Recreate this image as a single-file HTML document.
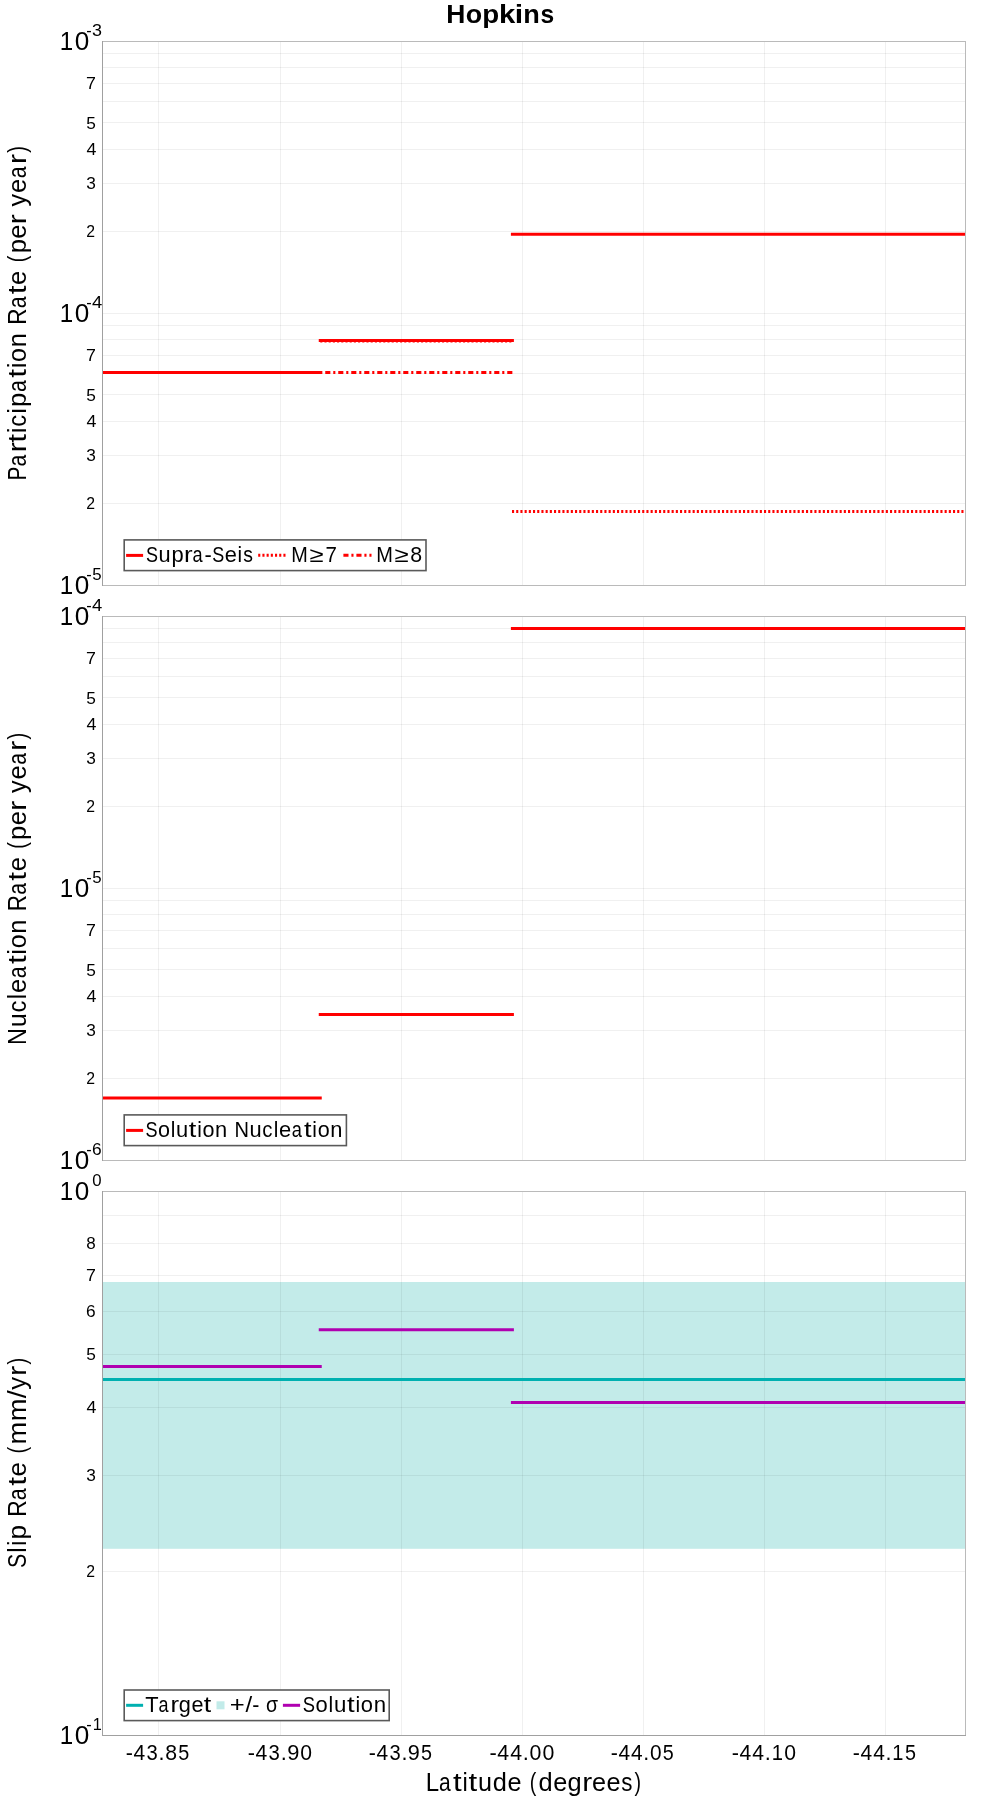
<!DOCTYPE html>
<html><head><meta charset="utf-8"><title>Hopkins</title><style>
html,body{margin:0;padding:0;background:#fff;}
svg{display:block;will-change:transform;}
text{font-family:"Liberation Sans", sans-serif;font-kerning:none;fill:#000;}
</style></head><body>
<svg width="1000" height="1800" viewBox="0 0 1000 1800">
<rect width="1000" height="1800" fill="#fff"/>
<text y="22.80" font-size="25.4" font-weight="bold"><tspan x="446.23" textLength="19.10" lengthAdjust="spacingAndGlyphs">H</tspan><tspan x="465.71" textLength="16.41" lengthAdjust="spacingAndGlyphs">o</tspan><tspan x="482.26" textLength="16.93" lengthAdjust="spacingAndGlyphs">p</tspan><tspan x="499.08" textLength="16.30" lengthAdjust="spacingAndGlyphs">k</tspan><tspan x="514.84" textLength="8.43" lengthAdjust="spacingAndGlyphs">i</tspan><tspan x="523.33" textLength="16.55" lengthAdjust="spacingAndGlyphs">n</tspan><tspan x="540.43" textLength="13.68" lengthAdjust="spacingAndGlyphs">s</tspan></text>
<rect x="102" y="1282" width="863" height="266.8" fill="#00a8a0" fill-opacity="0.235"/>
<path d="M103 503.5H965M103 455.5H965M103 421.5H965M103 394.5H965M103 373.5H965M103 355.5H965M103 339.5H965M103 325.5H965M103 313.5H965M103 231.5H965M103 183.5H965M103 149.5H965M103 122.5H965M103 101.5H965M103 83.5H965M103 67.5H965M103 53.5H965" stroke="#000" stroke-opacity="0.06" fill="none"/>
<path d="M158.5 42V585M280.5 42V585M401.5 42V585M522.5 42V585M643.5 42V585M764.5 42V585M885.5 42V585" stroke="#000" stroke-opacity="0.06" fill="none"/>
<path d="M103 1078.5H965M103 1030.5H965M103 996.5H965M103 969.5H965M103 948.5H965M103 930.5H965M103 914.5H965M103 900.5H965M103 888.5H965M103 806.5H965M103 758.5H965M103 724.5H965M103 697.5H965M103 676.5H965M103 658.5H965M103 642.5H965M103 628.5H965" stroke="#000" stroke-opacity="0.06" fill="none"/>
<path d="M158.5 617V1160M280.5 617V1160M401.5 617V1160M522.5 617V1160M643.5 617V1160M764.5 617V1160M885.5 617V1160" stroke="#000" stroke-opacity="0.06" fill="none"/>
<path d="M103 1571.5H965M103 1475.5H965M103 1407.5H965M103 1354.5H965M103 1311.5H965M103 1275.5H965M103 1243.5H965M103 1215.5H965" stroke="#000" stroke-opacity="0.06" fill="none"/>
<path d="M158.5 1192V1735M280.5 1192V1735M401.5 1192V1735M522.5 1192V1735M643.5 1192V1735M764.5 1192V1735M885.5 1192V1735" stroke="#000" stroke-opacity="0.06" fill="none"/>
<defs><clipPath id="c0"><rect x="102" y="41" width="863" height="544"/></clipPath><clipPath id="c1"><rect x="102" y="616" width="863" height="544"/></clipPath><clipPath id="c2"><rect x="102" y="1191" width="863" height="544"/></clipPath></defs>
<g clip-path="url(#c0)">
<path d="M100 372.4H320.25" stroke="#ff0000" stroke-width="3" stroke-linecap="square" fill="none"/>
<path d="M320.25 340.5H512.4" stroke="#ff0000" stroke-width="3" stroke-linecap="square" fill="none"/>
<path d="M320.25 340.9H512.4" stroke="#ff0000" stroke-width="3" stroke-linecap="butt" fill="none" stroke-dasharray="2.1 2.1"/>
<path d="M512.4 234.35H967" stroke="#ff0000" stroke-width="3" stroke-linecap="square" fill="none"/>
<path d="M512.0 511.6H965" stroke="#ff0000" stroke-width="3" stroke-linecap="butt" fill="none" stroke-dasharray="2.1 2.1"/>
<path d="M320.25 372.4H512.4" stroke="#ff0000" stroke-width="3" stroke-linecap="butt" fill="none" stroke-dasharray="2.1 2.9 5.1 2.9"/>
</g><g clip-path="url(#c1)">
<path d="M100 1098.1H320.25" stroke="#ff0000" stroke-width="3" stroke-linecap="square" fill="none"/>
<path d="M320.25 1014.6H512.4" stroke="#ff0000" stroke-width="3" stroke-linecap="square" fill="none"/>
<path d="M512.4 628.5H967" stroke="#ff0000" stroke-width="3" stroke-linecap="square" fill="none"/>
</g><g clip-path="url(#c2)">
<path d="M100 1379.6H967" stroke="#00b0b0" stroke-width="3" stroke-linecap="square" fill="none"/>
<path d="M100 1366.6H320.25" stroke="#b000b0" stroke-width="3" stroke-linecap="square" fill="none"/>
<path d="M320.25 1329.7H512.4" stroke="#b000b0" stroke-width="3" stroke-linecap="square" fill="none"/>
<path d="M512.4 1402.4H967" stroke="#b000b0" stroke-width="3" stroke-linecap="square" fill="none"/>
</g>
<rect x="102.5" y="41.5" width="863" height="544" fill="none" stroke="#bababa"/>
<path d="M102.5 41V586" stroke="#a0a0a0" fill="none"/>
<rect x="102.5" y="616.5" width="863" height="544" fill="none" stroke="#bababa"/>
<path d="M102.5 616V1161" stroke="#a0a0a0" fill="none"/>
<rect x="102.5" y="1191.5" width="863" height="544" fill="none" stroke="#bababa"/>
<path d="M102.5 1191V1736" stroke="#a0a0a0" fill="none"/>
<path d="M102 1735.5H966" stroke="#a0a0a0" fill="none"/>
<text x="59.76" y="594.00" font-size="25.5" textLength="13.42" lengthAdjust="spacingAndGlyphs">1</text>
<text x="74.68" y="594.00" font-size="25.5" textLength="14.54" lengthAdjust="spacingAndGlyphs">0</text>
<text x="86.27" y="580.00" font-size="17.4" textLength="5.46" lengthAdjust="spacingAndGlyphs">-</text>
<text x="92.32" y="580.00" font-size="17.4" textLength="9.38" lengthAdjust="spacingAndGlyphs">5</text>
<text x="59.76" y="322.00" font-size="25.5" textLength="13.42" lengthAdjust="spacingAndGlyphs">1</text>
<text x="74.68" y="322.00" font-size="25.5" textLength="14.54" lengthAdjust="spacingAndGlyphs">0</text>
<text x="86.27" y="308.00" font-size="17.4" textLength="5.46" lengthAdjust="spacingAndGlyphs">-</text>
<text x="92.08" y="308.00" font-size="17.4" textLength="10.26" lengthAdjust="spacingAndGlyphs">4</text>
<text x="59.76" y="50.00" font-size="25.5" textLength="13.42" lengthAdjust="spacingAndGlyphs">1</text>
<text x="74.68" y="50.00" font-size="25.5" textLength="14.54" lengthAdjust="spacingAndGlyphs">0</text>
<text x="86.27" y="36.00" font-size="17.4" textLength="5.46" lengthAdjust="spacingAndGlyphs">-</text>
<text x="92.07" y="36.00" font-size="17.4" textLength="9.97" lengthAdjust="spacingAndGlyphs">3</text>
<text x="86.09" y="361.00" font-size="17" textLength="9.91" lengthAdjust="spacingAndGlyphs">7</text>
<text x="86.31" y="401.00" font-size="17" textLength="9.62" lengthAdjust="spacingAndGlyphs">5</text>
<text x="86.59" y="427.00" font-size="17" textLength="9.93" lengthAdjust="spacingAndGlyphs">4</text>
<text x="86.34" y="461.00" font-size="17" textLength="9.62" lengthAdjust="spacingAndGlyphs">3</text>
<text x="86.21" y="509.00" font-size="17" textLength="8.79" lengthAdjust="spacingAndGlyphs">2</text>
<text x="86.09" y="89.00" font-size="17" textLength="9.91" lengthAdjust="spacingAndGlyphs">7</text>
<text x="86.31" y="129.00" font-size="17" textLength="9.62" lengthAdjust="spacingAndGlyphs">5</text>
<text x="86.59" y="155.00" font-size="17" textLength="9.93" lengthAdjust="spacingAndGlyphs">4</text>
<text x="86.34" y="189.00" font-size="17" textLength="9.62" lengthAdjust="spacingAndGlyphs">3</text>
<text x="86.21" y="237.00" font-size="17" textLength="8.79" lengthAdjust="spacingAndGlyphs">2</text>
<text x="59.76" y="1169.00" font-size="25.5" textLength="13.42" lengthAdjust="spacingAndGlyphs">1</text>
<text x="74.68" y="1169.00" font-size="25.5" textLength="14.54" lengthAdjust="spacingAndGlyphs">0</text>
<text x="86.27" y="1155.00" font-size="17.4" textLength="5.46" lengthAdjust="spacingAndGlyphs">-</text>
<text x="92.12" y="1155.00" font-size="17.4" textLength="9.64" lengthAdjust="spacingAndGlyphs">6</text>
<text x="59.76" y="897.00" font-size="25.5" textLength="13.42" lengthAdjust="spacingAndGlyphs">1</text>
<text x="74.68" y="897.00" font-size="25.5" textLength="14.54" lengthAdjust="spacingAndGlyphs">0</text>
<text x="86.27" y="883.00" font-size="17.4" textLength="5.46" lengthAdjust="spacingAndGlyphs">-</text>
<text x="92.32" y="883.00" font-size="17.4" textLength="9.38" lengthAdjust="spacingAndGlyphs">5</text>
<text x="59.76" y="625.00" font-size="25.5" textLength="13.42" lengthAdjust="spacingAndGlyphs">1</text>
<text x="74.68" y="625.00" font-size="25.5" textLength="14.54" lengthAdjust="spacingAndGlyphs">0</text>
<text x="86.27" y="611.00" font-size="17.4" textLength="5.46" lengthAdjust="spacingAndGlyphs">-</text>
<text x="92.08" y="611.00" font-size="17.4" textLength="10.26" lengthAdjust="spacingAndGlyphs">4</text>
<text x="86.09" y="936.00" font-size="17" textLength="9.91" lengthAdjust="spacingAndGlyphs">7</text>
<text x="86.31" y="976.00" font-size="17" textLength="9.62" lengthAdjust="spacingAndGlyphs">5</text>
<text x="86.59" y="1002.00" font-size="17" textLength="9.93" lengthAdjust="spacingAndGlyphs">4</text>
<text x="86.34" y="1036.00" font-size="17" textLength="9.62" lengthAdjust="spacingAndGlyphs">3</text>
<text x="86.21" y="1084.00" font-size="17" textLength="8.79" lengthAdjust="spacingAndGlyphs">2</text>
<text x="86.09" y="664.00" font-size="17" textLength="9.91" lengthAdjust="spacingAndGlyphs">7</text>
<text x="86.31" y="704.00" font-size="17" textLength="9.62" lengthAdjust="spacingAndGlyphs">5</text>
<text x="86.59" y="730.00" font-size="17" textLength="9.93" lengthAdjust="spacingAndGlyphs">4</text>
<text x="86.34" y="764.00" font-size="17" textLength="9.62" lengthAdjust="spacingAndGlyphs">3</text>
<text x="86.21" y="812.00" font-size="17" textLength="8.79" lengthAdjust="spacingAndGlyphs">2</text>
<text x="59.76" y="1744.00" font-size="25.5" textLength="13.42" lengthAdjust="spacingAndGlyphs">1</text>
<text x="74.68" y="1744.00" font-size="25.5" textLength="14.54" lengthAdjust="spacingAndGlyphs">0</text>
<text x="86.27" y="1730.00" font-size="17.4" textLength="5.46" lengthAdjust="spacingAndGlyphs">-</text>
<text x="92.66" y="1730.00" font-size="17.4" textLength="9.03" lengthAdjust="spacingAndGlyphs">1</text>
<text x="59.76" y="1200.00" font-size="25.5" textLength="13.42" lengthAdjust="spacingAndGlyphs">1</text>
<text x="74.68" y="1200.00" font-size="25.5" textLength="14.54" lengthAdjust="spacingAndGlyphs">0</text>
<text x="92.35" y="1186.00" font-size="17.4" textLength="9.31" lengthAdjust="spacingAndGlyphs">0</text>
<text x="86.26" y="1249.00" font-size="17" textLength="9.48" lengthAdjust="spacingAndGlyphs">8</text>
<text x="86.09" y="1281.00" font-size="17" textLength="9.91" lengthAdjust="spacingAndGlyphs">7</text>
<text x="86.12" y="1317.00" font-size="17" textLength="9.64" lengthAdjust="spacingAndGlyphs">6</text>
<text x="86.31" y="1360.00" font-size="17" textLength="9.62" lengthAdjust="spacingAndGlyphs">5</text>
<text x="86.59" y="1413.00" font-size="17" textLength="9.93" lengthAdjust="spacingAndGlyphs">4</text>
<text x="86.34" y="1481.00" font-size="17" textLength="9.62" lengthAdjust="spacingAndGlyphs">3</text>
<text x="86.21" y="1577.00" font-size="17" textLength="8.79" lengthAdjust="spacingAndGlyphs">2</text>
<text y="1759.50" font-size="21.2"><tspan x="125.84" textLength="7.16" lengthAdjust="spacingAndGlyphs">-</tspan><tspan x="133.52" textLength="11.70" lengthAdjust="spacingAndGlyphs">4</tspan><tspan x="146.47" textLength="11.23" lengthAdjust="spacingAndGlyphs">3</tspan><tspan x="158.58" textLength="6.00" lengthAdjust="spacingAndGlyphs">.</tspan><tspan x="165.19" textLength="11.82" lengthAdjust="spacingAndGlyphs">8</tspan><tspan x="178.19" textLength="11.04" lengthAdjust="spacingAndGlyphs">5</tspan></text>
<text y="1759.50" font-size="21.2"><tspan x="247.84" textLength="7.21" lengthAdjust="spacingAndGlyphs">-</tspan><tspan x="255.56" textLength="11.77" lengthAdjust="spacingAndGlyphs">4</tspan><tspan x="268.59" textLength="11.30" lengthAdjust="spacingAndGlyphs">3</tspan><tspan x="280.77" textLength="6.04" lengthAdjust="spacingAndGlyphs">.</tspan><tspan x="287.23" textLength="12.16" lengthAdjust="spacingAndGlyphs">9</tspan><tspan x="300.26" textLength="11.77" lengthAdjust="spacingAndGlyphs">0</tspan></text>
<text y="1759.50" font-size="21.2"><tspan x="368.85" textLength="7.14" lengthAdjust="spacingAndGlyphs">-</tspan><tspan x="376.49" textLength="11.66" lengthAdjust="spacingAndGlyphs">4</tspan><tspan x="389.41" textLength="11.20" lengthAdjust="spacingAndGlyphs">3</tspan><tspan x="401.47" textLength="5.98" lengthAdjust="spacingAndGlyphs">.</tspan><tspan x="407.87" textLength="12.04" lengthAdjust="spacingAndGlyphs">9</tspan><tspan x="421.03" textLength="11.00" lengthAdjust="spacingAndGlyphs">5</tspan></text>
<text y="1759.50" font-size="21.2"><tspan x="489.53" textLength="7.28" lengthAdjust="spacingAndGlyphs">-</tspan><tspan x="497.32" textLength="11.88" lengthAdjust="spacingAndGlyphs">4</tspan><tspan x="510.22" textLength="11.88" lengthAdjust="spacingAndGlyphs">4</tspan><tspan x="522.78" textLength="6.09" lengthAdjust="spacingAndGlyphs">.</tspan><tspan x="529.56" textLength="11.88" lengthAdjust="spacingAndGlyphs">0</tspan><tspan x="542.45" textLength="11.88" lengthAdjust="spacingAndGlyphs">0</tspan></text>
<text y="1759.50" font-size="21.2"><tspan x="610.85" textLength="7.12" lengthAdjust="spacingAndGlyphs">-</tspan><tspan x="618.47" textLength="11.62" lengthAdjust="spacingAndGlyphs">4</tspan><tspan x="631.08" textLength="11.62" lengthAdjust="spacingAndGlyphs">4</tspan><tspan x="643.37" textLength="5.96" lengthAdjust="spacingAndGlyphs">.</tspan><tspan x="650.00" textLength="11.62" lengthAdjust="spacingAndGlyphs">0</tspan><tspan x="662.86" textLength="10.97" lengthAdjust="spacingAndGlyphs">5</tspan></text>
<text y="1759.50" font-size="21.2"><tspan x="731.84" textLength="7.21" lengthAdjust="spacingAndGlyphs">-</tspan><tspan x="739.56" textLength="11.77" lengthAdjust="spacingAndGlyphs">4</tspan><tspan x="752.33" textLength="11.77" lengthAdjust="spacingAndGlyphs">4</tspan><tspan x="764.77" textLength="6.04" lengthAdjust="spacingAndGlyphs">.</tspan><tspan x="771.65" textLength="11.24" lengthAdjust="spacingAndGlyphs">1</tspan><tspan x="784.26" textLength="11.77" lengthAdjust="spacingAndGlyphs">0</tspan></text>
<text y="1759.50" font-size="21.2"><tspan x="852.85" textLength="7.14" lengthAdjust="spacingAndGlyphs">-</tspan><tspan x="860.49" textLength="11.66" lengthAdjust="spacingAndGlyphs">4</tspan><tspan x="873.15" textLength="11.66" lengthAdjust="spacingAndGlyphs">4</tspan><tspan x="885.47" textLength="5.98" lengthAdjust="spacingAndGlyphs">.</tspan><tspan x="892.29" textLength="11.14" lengthAdjust="spacingAndGlyphs">1</tspan><tspan x="905.03" textLength="11.00" lengthAdjust="spacingAndGlyphs">5</tspan></text>
<text y="1791.10" font-size="25.4"><tspan x="425.83" textLength="13.36" lengthAdjust="spacingAndGlyphs">L</tspan><tspan x="439.03" textLength="11.68" lengthAdjust="spacingAndGlyphs">a</tspan><tspan x="452.99" textLength="8.67" lengthAdjust="spacingAndGlyphs">t</tspan><tspan x="462.59" textLength="5.30" lengthAdjust="spacingAndGlyphs">i</tspan><tspan x="468.63" textLength="8.67" lengthAdjust="spacingAndGlyphs">t</tspan><tspan x="477.98" textLength="14.00" lengthAdjust="spacingAndGlyphs">u</tspan><tspan x="492.66" textLength="14.12" lengthAdjust="spacingAndGlyphs">d</tspan><tspan x="507.48" textLength="14.03" lengthAdjust="spacingAndGlyphs">e</tspan> <tspan x="529.84" textLength="6.57" lengthAdjust="spacingAndGlyphs">(</tspan><tspan x="538.39" textLength="14.12" lengthAdjust="spacingAndGlyphs">d</tspan><tspan x="553.21" textLength="14.03" lengthAdjust="spacingAndGlyphs">e</tspan><tspan x="567.58" textLength="14.12" lengthAdjust="spacingAndGlyphs">g</tspan><tspan x="582.32" textLength="9.96" lengthAdjust="spacingAndGlyphs">r</tspan><tspan x="592.01" textLength="14.03" lengthAdjust="spacingAndGlyphs">e</tspan><tspan x="606.38" textLength="14.03" lengthAdjust="spacingAndGlyphs">e</tspan><tspan x="621.17" textLength="11.19" lengthAdjust="spacingAndGlyphs">s</tspan><tspan x="634.45" textLength="6.57" lengthAdjust="spacingAndGlyphs">)</tspan></text>
<text transform="rotate(-90)" y="26.10" font-size="25.4"><tspan x="-480.61" textLength="13.93" lengthAdjust="spacingAndGlyphs">P</tspan><tspan x="-466.46" textLength="11.81" lengthAdjust="spacingAndGlyphs">a</tspan><tspan x="-452.38" textLength="10.07" lengthAdjust="spacingAndGlyphs">r</tspan><tspan x="-442.65" textLength="8.77" lengthAdjust="spacingAndGlyphs">t</tspan><tspan x="-432.94" textLength="5.36" lengthAdjust="spacingAndGlyphs">i</tspan><tspan x="-426.69" textLength="11.85" lengthAdjust="spacingAndGlyphs">c</tspan><tspan x="-413.39" textLength="5.36" lengthAdjust="spacingAndGlyphs">i</tspan><tspan x="-406.96" textLength="14.29" lengthAdjust="spacingAndGlyphs">p</tspan><tspan x="-391.94" textLength="11.81" lengthAdjust="spacingAndGlyphs">a</tspan><tspan x="-377.83" textLength="8.77" lengthAdjust="spacingAndGlyphs">t</tspan><tspan x="-368.12" textLength="5.36" lengthAdjust="spacingAndGlyphs">i</tspan><tspan x="-361.92" textLength="13.96" lengthAdjust="spacingAndGlyphs">o</tspan><tspan x="-347.27" textLength="14.16" lengthAdjust="spacingAndGlyphs">n</tspan> <tspan x="-324.79" textLength="16.31" lengthAdjust="spacingAndGlyphs">R</tspan><tspan x="-308.34" textLength="11.81" lengthAdjust="spacingAndGlyphs">a</tspan><tspan x="-294.23" textLength="8.77" lengthAdjust="spacingAndGlyphs">t</tspan><tspan x="-284.91" textLength="14.18" lengthAdjust="spacingAndGlyphs">e</tspan> <tspan x="-262.30" textLength="6.65" lengthAdjust="spacingAndGlyphs">(</tspan><tspan x="-253.39" textLength="14.29" lengthAdjust="spacingAndGlyphs">p</tspan><tspan x="-238.68" textLength="14.18" lengthAdjust="spacingAndGlyphs">e</tspan><tspan x="-224.23" textLength="10.07" lengthAdjust="spacingAndGlyphs">r</tspan> <tspan x="-206.52" textLength="12.68" lengthAdjust="spacingAndGlyphs">y</tspan><tspan x="-192.96" textLength="14.18" lengthAdjust="spacingAndGlyphs">e</tspan><tspan x="-178.14" textLength="11.81" lengthAdjust="spacingAndGlyphs">a</tspan><tspan x="-164.05" textLength="10.07" lengthAdjust="spacingAndGlyphs">r</tspan><tspan x="-152.71" textLength="6.65" lengthAdjust="spacingAndGlyphs">)</tspan></text>
<text transform="rotate(-90)" y="26.10" font-size="25.4"><tspan x="-1044.91" textLength="16.81" lengthAdjust="spacingAndGlyphs">N</tspan><tspan x="-1027.33" textLength="14.13" lengthAdjust="spacingAndGlyphs">u</tspan><tspan x="-1012.45" textLength="11.83" lengthAdjust="spacingAndGlyphs">c</tspan><tspan x="-999.19" textLength="5.35" lengthAdjust="spacingAndGlyphs">l</tspan><tspan x="-993.02" textLength="14.16" lengthAdjust="spacingAndGlyphs">e</tspan><tspan x="-978.22" textLength="11.79" lengthAdjust="spacingAndGlyphs">a</tspan><tspan x="-964.14" textLength="8.75" lengthAdjust="spacingAndGlyphs">t</tspan><tspan x="-954.44" textLength="5.35" lengthAdjust="spacingAndGlyphs">i</tspan><tspan x="-948.25" textLength="13.94" lengthAdjust="spacingAndGlyphs">o</tspan><tspan x="-933.63" textLength="14.13" lengthAdjust="spacingAndGlyphs">n</tspan> <tspan x="-911.19" textLength="16.28" lengthAdjust="spacingAndGlyphs">R</tspan><tspan x="-894.76" textLength="11.79" lengthAdjust="spacingAndGlyphs">a</tspan><tspan x="-880.67" textLength="8.75" lengthAdjust="spacingAndGlyphs">t</tspan><tspan x="-871.37" textLength="14.16" lengthAdjust="spacingAndGlyphs">e</tspan> <tspan x="-848.80" textLength="6.63" lengthAdjust="spacingAndGlyphs">(</tspan><tspan x="-839.91" textLength="14.26" lengthAdjust="spacingAndGlyphs">p</tspan><tspan x="-825.22" textLength="14.16" lengthAdjust="spacingAndGlyphs">e</tspan><tspan x="-810.80" textLength="10.06" lengthAdjust="spacingAndGlyphs">r</tspan> <tspan x="-793.11" textLength="12.66" lengthAdjust="spacingAndGlyphs">y</tspan><tspan x="-779.59" textLength="14.16" lengthAdjust="spacingAndGlyphs">e</tspan><tspan x="-764.79" textLength="11.79" lengthAdjust="spacingAndGlyphs">a</tspan><tspan x="-750.73" textLength="10.06" lengthAdjust="spacingAndGlyphs">r</tspan><tspan x="-739.40" textLength="6.63" lengthAdjust="spacingAndGlyphs">)</tspan></text>
<text transform="rotate(-90)" y="26.10" font-size="25.4"><tspan x="-1567.97" textLength="14.23" lengthAdjust="spacingAndGlyphs">S</tspan><tspan x="-1552.78" textLength="5.43" lengthAdjust="spacingAndGlyphs">l</tspan><tspan x="-1546.12" textLength="5.43" lengthAdjust="spacingAndGlyphs">i</tspan><tspan x="-1539.60" textLength="14.48" lengthAdjust="spacingAndGlyphs">p</tspan> <tspan x="-1516.82" textLength="16.53" lengthAdjust="spacingAndGlyphs">R</tspan><tspan x="-1500.15" textLength="11.97" lengthAdjust="spacingAndGlyphs">a</tspan><tspan x="-1485.85" textLength="8.89" lengthAdjust="spacingAndGlyphs">t</tspan><tspan x="-1476.40" textLength="14.37" lengthAdjust="spacingAndGlyphs">e</tspan> <tspan x="-1453.49" textLength="6.74" lengthAdjust="spacingAndGlyphs">(</tspan><tspan x="-1444.60" textLength="22.71" lengthAdjust="spacingAndGlyphs">m</tspan><tspan x="-1421.29" textLength="22.71" lengthAdjust="spacingAndGlyphs">m</tspan><tspan x="-1398.34" textLength="8.06" lengthAdjust="spacingAndGlyphs">/</tspan><tspan x="-1389.63" textLength="12.85" lengthAdjust="spacingAndGlyphs">y</tspan><tspan x="-1375.98" textLength="10.21" lengthAdjust="spacingAndGlyphs">r</tspan><tspan x="-1364.48" textLength="6.74" lengthAdjust="spacingAndGlyphs">)</tspan></text>
<rect x="124.2" y="539.9" width="301.8" height="30.700000000000045" fill="#fff" stroke="#5a5a5a" stroke-width="1.6"/>
<path d="M126.1 555.4H143.1" stroke="#ff0000" stroke-width="3" stroke-linecap="butt" fill="none"/>
<text y="561.70" font-size="21.2"><tspan x="145.88" textLength="12.02" lengthAdjust="spacingAndGlyphs">S</tspan><tspan x="158.50" textLength="12.12" lengthAdjust="spacingAndGlyphs">u</tspan><tspan x="171.43" textLength="12.23" lengthAdjust="spacingAndGlyphs">p</tspan><tspan x="183.95" textLength="8.62" lengthAdjust="spacingAndGlyphs">r</tspan><tspan x="192.59" textLength="10.11" lengthAdjust="spacingAndGlyphs">a</tspan><tspan x="204.55" textLength="7.26" lengthAdjust="spacingAndGlyphs">-</tspan><tspan x="212.34" textLength="12.02" lengthAdjust="spacingAndGlyphs">S</tspan><tspan x="224.84" textLength="12.14" lengthAdjust="spacingAndGlyphs">e</tspan><tspan x="237.61" textLength="4.59" lengthAdjust="spacingAndGlyphs">i</tspan><tspan x="243.26" textLength="9.69" lengthAdjust="spacingAndGlyphs">s</tspan></text>
<path d="M258.2 555.3H286" stroke="#ff0000" stroke-width="3" stroke-linecap="butt" fill="none" stroke-dasharray="2.1 2.1"/>
<text y="561.70" font-size="21.2"><tspan x="291.27" textLength="16.55" lengthAdjust="spacingAndGlyphs">M</tspan><tspan x="309.43" textLength="14.09" lengthAdjust="spacingAndGlyphs">≥</tspan><tspan x="325.41" textLength="11.43" lengthAdjust="spacingAndGlyphs">7</tspan></text>
<path d="M343.4 555.3H371.5" stroke="#ff0000" stroke-width="3" stroke-linecap="butt" fill="none" stroke-dasharray="5.1 2.9 2.1 2.9"/>
<text y="561.70" font-size="21.2"><tspan x="376.16" textLength="16.65" lengthAdjust="spacingAndGlyphs">M</tspan><tspan x="394.43" textLength="14.17" lengthAdjust="spacingAndGlyphs">≥</tspan><tspan x="410.35" textLength="11.88" lengthAdjust="spacingAndGlyphs">8</tspan></text>
<rect x="124.2" y="1114.9" width="222.2" height="30.699999999999818" fill="#fff" stroke="#5a5a5a" stroke-width="1.6"/>
<path d="M126.1 1130.4H143.1" stroke="#ff0000" stroke-width="3" stroke-linecap="butt" fill="none"/>
<text y="1136.70" font-size="21.2"><tspan x="145.38" textLength="12.07" lengthAdjust="spacingAndGlyphs">S</tspan><tspan x="157.96" textLength="12.00" lengthAdjust="spacingAndGlyphs">o</tspan><tspan x="170.69" textLength="4.61" lengthAdjust="spacingAndGlyphs">l</tspan><tspan x="176.12" textLength="12.18" lengthAdjust="spacingAndGlyphs">u</tspan><tspan x="188.82" textLength="7.54" lengthAdjust="spacingAndGlyphs">t</tspan><tspan x="197.17" textLength="4.61" lengthAdjust="spacingAndGlyphs">i</tspan><tspan x="202.50" textLength="12.00" lengthAdjust="spacingAndGlyphs">o</tspan><tspan x="215.10" textLength="12.18" lengthAdjust="spacingAndGlyphs">n</tspan> <tspan x="234.38" textLength="14.48" lengthAdjust="spacingAndGlyphs">N</tspan><tspan x="249.52" textLength="12.18" lengthAdjust="spacingAndGlyphs">u</tspan><tspan x="262.35" textLength="10.19" lengthAdjust="spacingAndGlyphs">c</tspan><tspan x="273.77" textLength="4.61" lengthAdjust="spacingAndGlyphs">l</tspan><tspan x="279.08" textLength="12.20" lengthAdjust="spacingAndGlyphs">e</tspan><tspan x="291.83" textLength="10.15" lengthAdjust="spacingAndGlyphs">a</tspan><tspan x="303.97" textLength="7.54" lengthAdjust="spacingAndGlyphs">t</tspan><tspan x="312.32" textLength="4.61" lengthAdjust="spacingAndGlyphs">i</tspan><tspan x="317.65" textLength="12.00" lengthAdjust="spacingAndGlyphs">o</tspan><tspan x="330.25" textLength="12.18" lengthAdjust="spacingAndGlyphs">n</tspan></text>
<rect x="124.2" y="1690" width="265.0" height="30.59999999999991" fill="#fff" stroke="#5a5a5a" stroke-width="1.6"/>
<path d="M126.1 1705.3H143.1" stroke="#00b0b0" stroke-width="3" stroke-linecap="butt" fill="none"/>
<text y="1711.70" font-size="21.2"><tspan x="145.31" textLength="13.34" lengthAdjust="spacingAndGlyphs">T</tspan><tspan x="158.53" textLength="10.02" lengthAdjust="spacingAndGlyphs">a</tspan><tspan x="170.48" textLength="8.54" lengthAdjust="spacingAndGlyphs">r</tspan><tspan x="178.79" textLength="12.10" lengthAdjust="spacingAndGlyphs">g</tspan><tspan x="191.49" textLength="12.03" lengthAdjust="spacingAndGlyphs">e</tspan><tspan x="203.76" textLength="7.44" lengthAdjust="spacingAndGlyphs">t</tspan></text>
<rect x="216.5" y="1701.3" width="8" height="8" fill="#c2ebe9"/>
<text y="1711.70" font-size="21.2"><tspan x="229.75" textLength="14.97" lengthAdjust="spacingAndGlyphs">+</tspan><tspan x="245.56" textLength="6.70" lengthAdjust="spacingAndGlyphs">/</tspan><tspan x="252.29" textLength="7.14" lengthAdjust="spacingAndGlyphs">-</tspan> <tspan x="266.05" textLength="12.04" lengthAdjust="spacingAndGlyphs">σ</tspan></text>
<path d="M282.9 1705.3H300.1" stroke="#b000b0" stroke-width="3" stroke-linecap="butt" fill="none"/>
<text y="1711.70" font-size="21.2"><tspan x="302.76" textLength="12.28" lengthAdjust="spacingAndGlyphs">S</tspan><tspan x="315.56" textLength="12.21" lengthAdjust="spacingAndGlyphs">o</tspan><tspan x="328.50" textLength="4.69" lengthAdjust="spacingAndGlyphs">l</tspan><tspan x="334.02" textLength="12.38" lengthAdjust="spacingAndGlyphs">u</tspan><tspan x="346.94" textLength="7.67" lengthAdjust="spacingAndGlyphs">t</tspan><tspan x="355.43" textLength="4.69" lengthAdjust="spacingAndGlyphs">i</tspan><tspan x="360.85" textLength="12.21" lengthAdjust="spacingAndGlyphs">o</tspan><tspan x="373.66" textLength="12.38" lengthAdjust="spacingAndGlyphs">n</tspan></text>
</svg>
</body></html>
